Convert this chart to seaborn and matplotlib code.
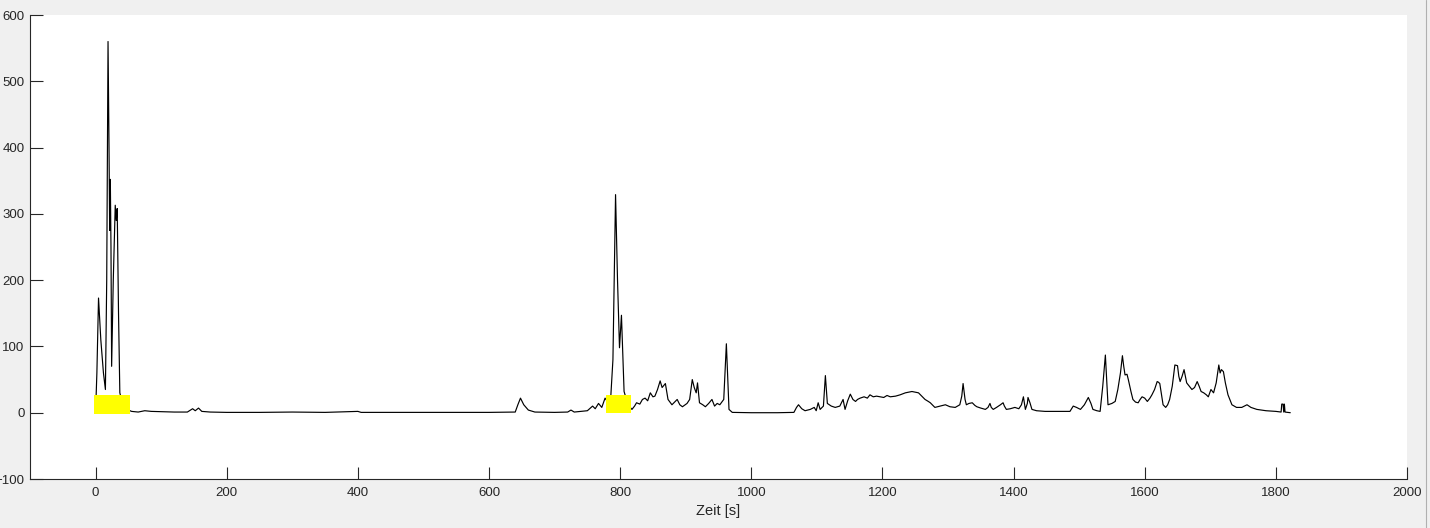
import matplotlib
matplotlib.use('Agg')
import matplotlib.pyplot as plt
import seaborn as sns
from matplotlib.lines import Line2D

# Zeitreihe
zeit = [0, 2, 4.5, 8, 12, 15, 17, 19, 20.5, 21.5, 22.5, 23.5, 24.5, 27, 30, 31.5, 33, 35, 37, 40,
        45, 50, 55, 65, 75, 85, 100, 120, 140, 148, 152, 157, 162, 175, 200, 250, 300, 350, 400, 405,
        450, 500, 550, 600, 640, 644, 648, 653, 660, 670, 700, 720, 725, 730, 750, 758, 762, 767, 772, 777,
        781, 785, 789, 793, 796, 799, 802, 806, 812, 818, 822, 825, 830, 834, 838, 842, 846, 850, 853, 857,
        861, 864, 869, 873, 879, 883, 887, 891, 895, 902, 906, 910, 913, 916, 918, 921, 926, 930, 935, 940,
        944, 948, 952, 958, 962, 966, 971, 1000, 1040, 1065, 1069, 1072, 1077, 1082, 1090, 1096, 1099, 1102, 1105, 1110,
        1113, 1116, 1122, 1128, 1135, 1140, 1143, 1147, 1151, 1155, 1159, 1162, 1166, 1172, 1177, 1181, 1186, 1191, 1197, 1202,
        1207, 1212, 1220, 1227, 1235, 1245, 1250, 1255, 1260, 1265, 1270, 1273, 1277, 1280, 1288, 1296, 1303, 1311, 1318, 1321,
        1323, 1326, 1328, 1332, 1337, 1341, 1344, 1350, 1357, 1361, 1364, 1366, 1369, 1374, 1380, 1384, 1386, 1389, 1395, 1402,
        1408, 1412, 1415, 1417, 1418, 1421, 1422, 1425, 1428, 1435, 1448, 1470, 1486, 1491, 1496, 1502, 1508, 1514, 1518, 1521,
        1527, 1532, 1536, 1540, 1542, 1544, 1550, 1555, 1559, 1563, 1566, 1568, 1570, 1573, 1575, 1579, 1582, 1586, 1590, 1593,
        1596, 1600, 1604, 1608, 1611, 1615, 1619, 1621, 1623, 1626, 1628, 1632, 1635, 1638, 1642, 1646, 1650, 1652, 1654, 1657,
        1660, 1662, 1664, 1668, 1672, 1676, 1680, 1683, 1686, 1690, 1694, 1697, 1701, 1705, 1709, 1713, 1715, 1717, 1720, 1723,
        1727, 1733, 1740, 1748, 1752, 1756, 1762, 1771, 1785, 1800, 1808, 1809, 1811, 1812, 1813, 1814, 1822]
wert = [0, 60, 173, 110, 60, 35, 200, 560, 400, 275, 352, 250, 70, 200, 313, 290, 308, 150, 30, 18,
        10, 4, 2, 1, 3, 2, 1.5, 1, 1, 6, 3, 7, 2, 1, 0.5, 0.5, 1, 0.5, 2, 0.5,
        0.5, 0.5, 0.5, 0.5, 1, 12, 22, 12, 4, 1, 0.5, 1, 4, 1, 3, 10, 6, 14, 8, 22,
        16, 12, 80, 329, 200, 98, 147, 32, 12, 5, 10, 15, 13, 20, 22, 18, 30, 24, 25, 35,
        48, 38, 44, 20, 12, 16, 20, 12, 9, 14, 20, 50, 38, 30, 45, 15, 12, 9, 14, 20,
        10, 14, 12, 20, 104, 5, 0.5, 0, 0, 0.5, 8, 12, 6, 3, 5, 8, 3, 15, 5, 10,
        56, 14, 10, 8, 10, 20, 5, 18, 28, 20, 17, 20, 22, 24, 22, 27, 24, 25, 24, 23,
        26, 24, 25, 27, 30, 32, 31, 30, 25, 20, 17, 15, 11, 8, 10, 12, 9, 8, 12, 25,
        44, 20, 12, 14, 15, 11, 9, 7, 5, 8, 14, 8, 5, 8, 12, 15, 10, 5, 6, 8,
        6, 12, 24, 12, 5, 14, 23, 15, 5, 3, 2, 2, 2, 10, 8, 5, 12, 23, 14, 5,
        3, 2, 40, 87, 50, 12, 14, 17, 35, 60, 86, 70, 57, 58, 50, 32, 20, 16, 15, 20,
        24, 22, 17, 22, 27, 35, 47, 46, 44, 25, 12, 8, 12, 20, 40, 72, 71, 55, 47, 55,
        65, 55, 45, 40, 35, 38, 47, 40, 32, 30, 27, 24, 35, 30, 45, 72, 60, 65, 62, 45,
        27, 12, 8, 8, 10, 12, 8, 5, 3, 2, 1, 13, 13, 1, 13, 1, 0]

# gelb markierte Bereiche
mark_start = [-3, 779]
mark_ende = [52, 817]
mark_unten = [-2, 0]
mark_oben = [27, 26]

x_ticks = [0, 200, 400, 600, 800, 1000, 1200, 1400, 1600, 1800, 2000]
y_ticks = [-100, 0, 100, 200, 300, 400, 500, 600]

sns.set_style('ticks')
plt.rcParams['font.family'] = ['Liberation Sans', 'DejaVu Sans']

fig = plt.figure(figsize=(14.3, 5.28), dpi=100, facecolor='#f0f0f0')
ax = fig.add_axes([30 / 1430, 1 - 479 / 528, 1377 / 1430, 464 / 528])
ax.set_facecolor('white')

sns.lineplot(x=zeit, y=wert, color='black', linewidth=0.85, sort=False, estimator=None, ax=ax, zorder=2)

for a, b, u, o in zip(mark_start, mark_ende, mark_unten, mark_oben):
    ax.fill_between([a, b], [u, u], [o, o], color='#ffff00', linewidth=0, zorder=3)

ax.set_xlim(-100, 2000)
ax.set_ylim(-100, 600)
ax.set_xticks(x_ticks)
ax.set_yticks(y_ticks)
ax.set_xlabel('Zeit [s]', fontsize=10.5, color='#262626', labelpad=3)
ax.set_ylabel('')

for s in ['top', 'right']:
    ax.spines[s].set_visible(False)
for s in ['left', 'bottom']:
    ax.spines[s].set_color('#262626')
    ax.spines[s].set_linewidth(0.8)
ax.tick_params(direction='in', length=9, width=0.8, color='#262626',
               labelcolor='#262626', labelsize=9.5)
ax.tick_params(axis='x', pad=6)
ax.tick_params(axis='y', pad=4)

fig.add_artist(Line2D([1425.5 / 1430, 1425.5 / 1430], [0, 1], color='#b0b0b0', linewidth=0.8))

fig.savefig('out.png', dpi=100, facecolor=fig.get_facecolor())
